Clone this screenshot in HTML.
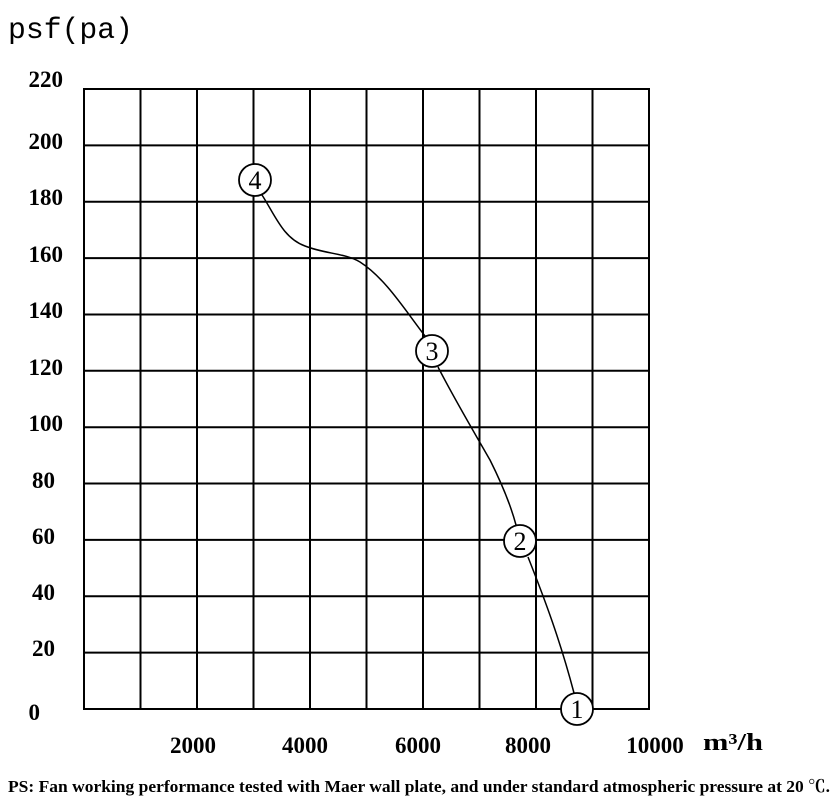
<!DOCTYPE html>
<html><head><meta charset="utf-8"><style>
html,body{margin:0;padding:0;background:#fff;width:836px;height:803px;overflow:hidden}
svg text{font-family:"Liberation Serif","Noto Serif CJK SC",serif;fill:#000}
</style></head><body>
<svg width="836" height="803" xmlns="http://www.w3.org/2000/svg">
<text x="8" y="38" font-size="30" font-family="Liberation Mono" style="font-family:'Liberation Mono',monospace" textLength="125" lengthAdjust="spacingAndGlyphs">psf(pa)</text>
<g stroke="#000" stroke-width="2" fill="none">
<rect x="84" y="89" width="565" height="620"/>
<path d="M140.5 89V709M197 89V709M253.5 89V709M310 89V709M366.5 89V709M423 89V709M479.5 89V709M536 89V709M592.5 89V709"/>
<path d="M84 145.4H649M84 201.7H649M84 258.1H649M84 314.5H649M84 370.8H649M84 427.2H649M84 483.5H649M84 539.9H649M84 596.3H649M84 652.6H649"/>
</g>
<path d="M262 195 C275 215,283 238,305 246 C325 254,345 253,360 262 C385 278,405 310,425 336 M438 367 C455 400,470 425,490 460 C505 490,512 510,516 525 M528 557 C545 600,560 640,574 693" stroke="#000" stroke-width="1.5" fill="none"/>
<g stroke="#000" stroke-width="1.8" fill="#fff">
<circle cx="255" cy="180" r="16"/><circle cx="432" cy="351" r="16"/><circle cx="520" cy="541" r="16"/><circle cx="577" cy="709" r="16"/>
</g>
<g font-size="26" text-anchor="middle">
<text x="255" y="189">4</text><text x="432" y="360">3</text><text x="520" y="550">2</text><text x="577" y="718">1</text>
</g>
<g font-size="23" font-weight="bold" text-anchor="end">
<text x="63" y="87">220</text><text x="63" y="149">200</text><text x="63" y="205">180</text><text x="63" y="262">160</text><text x="63" y="318">140</text><text x="63" y="375">120</text><text x="63" y="431">100</text><text x="55" y="488">80</text><text x="55" y="544">60</text><text x="55" y="600">40</text><text x="55" y="656">20</text><text x="40" y="720">0</text>
</g>
<g font-size="23" font-weight="bold" text-anchor="middle">
<text x="193" y="753">2000</text><text x="305" y="753">4000</text><text x="418" y="753">6000</text><text x="528" y="753">8000</text><text x="655" y="753">10000</text>
</g>
<text x="703" y="750" font-size="24" font-weight="bold" textLength="60" lengthAdjust="spacingAndGlyphs">m³/h</text>
<text x="8" y="792" font-size="17" font-weight="bold" textLength="822" lengthAdjust="spacingAndGlyphs">PS: Fan working performance tested with Maer wall plate, and under standard atmospheric pressure at 20 ℃.</text>
</svg>
</body></html>
